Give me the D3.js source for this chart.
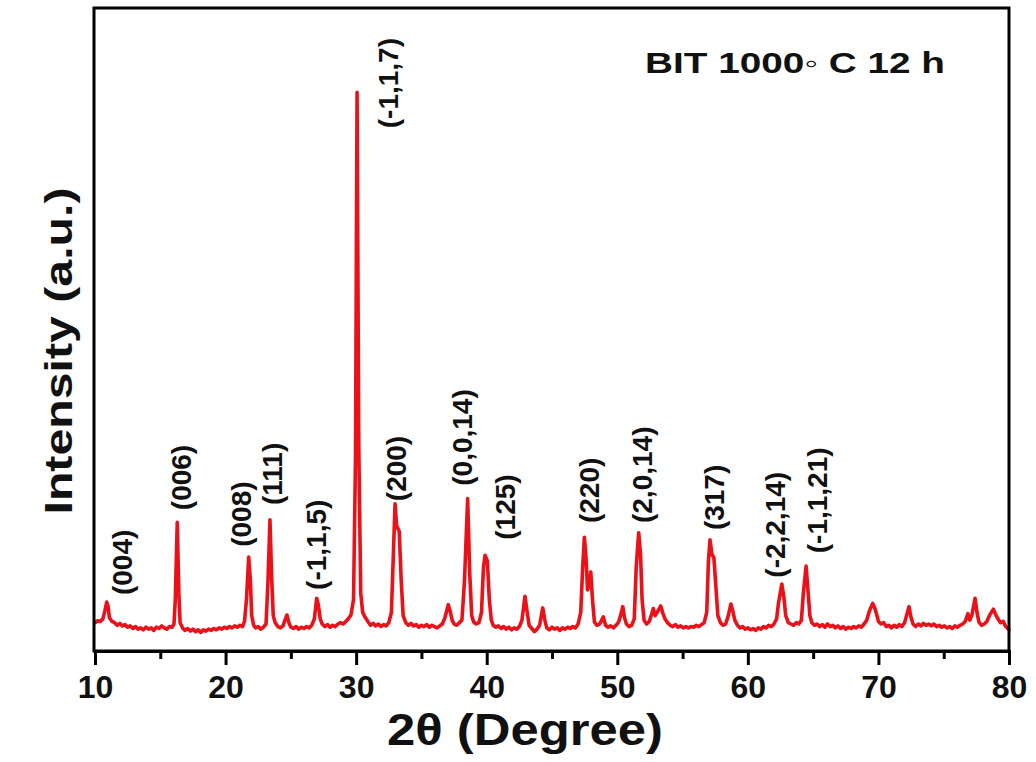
<!DOCTYPE html>
<html>
<head>
<meta charset="utf-8">
<script src="https://cdn.jsdelivr.net/npm/d3@7"></script>
<style>
  html, body { margin: 0; padding: 0; background: #fff; }
  svg { display: block; }
  text { font-family: "Liberation Sans", Arial, sans-serif; font-weight: bold; fill: #111; }
</style>
</head>
<body>
<svg id="chart" width="1036" height="762"></svg>
<script>
// ---- Data ----
// XRD trace: [2theta (degree), intensity (a.u.)]
const trace = [
  [10.0,44],[10.2,47],[10.4,46],[10.6,50],[10.75,62],[10.9,76],[11.0,70],[11.1,52],[11.3,46],[11.5,44],
  [11.7,40],[11.9,43],[12.1,39],[12.3,41],[12.5,37],[12.7,39],[12.9,35],[13.1,38],[13.3,34],[13.5,36],
  [13.7,33],[13.9,37],[14.1,34],[14.3,36],[14.5,32],[14.7,37],[14.9,35],[15.1,39],[15.3,36],[15.5,34],
  [15.7,38],[15.9,37],[16.05,42],[16.15,80],[16.3,200],[16.42,90],[16.52,44],[16.7,36],[16.9,32],[17.1,35],
  [17.3,31],[17.5,34],[17.7,30],[17.9,33],[18.1,29],[18.3,33],[18.5,31],[18.7,34],[18.9,32],[19.1,35],
  [19.3,33],[19.5,36],[19.7,34],[19.9,37],[20.1,35],[20.3,38],[20.5,36],[20.7,39],[20.9,37],[21.1,40],
  [21.3,38],[21.45,46],[21.6,80],[21.77,146],[21.9,110],[22.0,55],[22.15,40],[22.3,36],[22.5,38],[22.7,34],
  [22.9,37],[23.1,42],[23.25,110],[23.4,204],[23.52,120],[23.65,55],[23.8,44],[24.0,38],[24.2,36],[24.4,39],
  [24.55,48],[24.7,56],[24.85,44],[25.0,37],[25.2,35],[25.4,38],[25.6,34],[25.8,37],[26.0,35],[26.2,38],
  [26.4,36],[26.6,40],[26.8,50],[26.98,82],[27.1,72],[27.25,50],[27.4,42],[27.6,38],[27.8,41],[28.0,37],
  [28.2,40],[28.4,38],[28.6,42],[28.8,44],[29.0,42],[29.2,46],[29.4,50],[29.6,56],[29.8,80],[29.95,300],
  [30.07,869],[30.2,320],[30.35,90],[30.5,60],[30.7,52],[30.9,46],[31.1,40],[31.3,43],[31.5,39],[31.7,42],
  [31.9,38],[32.1,41],[32.3,39],[32.5,44],[32.7,60],[32.85,150],[32.98,229],[33.1,195],[33.3,186],[33.45,110],
  [33.6,55],[33.8,44],[34.0,40],[34.2,43],[34.4,39],[34.6,41],[34.8,37],[35.0,40],[35.2,38],[35.4,41],
  [35.6,37],[35.8,40],[36.0,38],[36.2,36],[36.4,39],[36.6,42],[36.8,52],[37.06,72],[37.2,62],[37.35,48],
  [37.5,42],[37.7,40],[37.9,44],[38.1,48],[38.3,110],[38.54,237],[38.7,120],[38.85,55],[39.0,45],[39.2,42],
  [39.4,44],[39.6,60],[39.75,130],[39.87,149],[40.05,140],[40.2,80],[40.35,48],[40.5,40],[40.7,37],[40.9,39],
  [41.1,35],[41.3,38],[41.5,34],[41.7,37],[41.9,33],[42.1,36],[42.3,34],[42.5,38],[42.7,48],[42.93,85],
  [43.1,60],[43.25,40],[43.45,35],[43.65,30],[43.85,34],[44.05,40],[44.29,67],[44.45,48],[44.6,36],[44.8,33],
  [45.0,37],[45.2,34],[45.4,36],[45.6,32],[45.8,36],[46.0,34],[46.2,37],[46.4,35],[46.6,38],[46.8,36],
  [47.0,42],[47.2,60],[47.35,130],[47.48,177],[47.62,140],[47.72,95],[47.82,100],[47.97,123],[48.1,80],[48.25,45],
  [48.45,40],[48.65,42],[48.93,53],[49.1,40],[49.3,37],[49.5,39],[49.7,36],[49.9,40],[50.1,45],[50.25,55],
  [50.42,69],[50.55,52],[50.7,42],[50.9,38],[51.1,40],[51.3,50],[51.45,130],[51.55,160],[51.64,184],[51.78,150],
  [51.9,80],[52.05,48],[52.25,42],[52.45,46],[52.6,55],[52.76,66],[52.9,55],[53.05,60],[53.33,70],[53.5,58],
  [53.65,50],[53.85,44],[54.05,40],[54.25,38],[54.45,41],[54.65,37],[54.85,39],[55.05,36],[55.25,38],[55.45,36],
  [55.65,38],[55.85,37],[56.05,40],[56.25,38],[56.45,41],[56.65,44],[56.85,60],[56.98,140],[57.1,173],[57.25,150],
  [57.4,145],[57.55,100],[57.7,55],[57.9,44],[58.1,40],[58.3,42],[58.5,55],[58.7,73],[58.85,62],[59.0,48],
  [59.2,40],[59.4,36],[59.6,38],[59.8,34],[60.0,36],[60.2,33],[60.4,35],[60.6,32],[60.8,36],[61.0,34],
  [61.2,38],[61.4,36],[61.6,40],[61.8,38],[62.0,42],[62.2,50],[62.35,75],[62.6,104],[62.75,85],[62.9,55],
  [63.1,44],[63.3,42],[63.5,40],[63.7,44],[63.9,42],[64.1,48],[64.25,90],[64.46,132],[64.6,95],[64.75,55],
  [64.9,44],[65.1,40],[65.3,42],[65.5,38],[65.7,41],[65.9,37],[66.1,42],[66.3,38],[66.5,40],[66.7,36],
  [66.9,39],[67.1,35],[67.3,38],[67.5,34],[67.7,37],[67.9,35],[68.1,38],[68.3,36],[68.5,39],[68.7,37],
  [68.9,42],[69.1,48],[69.3,62],[69.56,74],[69.7,68],[69.85,58],[70.0,46],[70.2,42],[70.4,44],[70.6,38],
  [70.8,40],[71.0,36],[71.2,40],[71.4,37],[71.6,41],[71.8,38],[72.0,44],[72.15,55],[72.34,69],[72.5,52],
  [72.65,42],[72.85,38],[73.05,42],[73.25,39],[73.45,43],[73.65,40],[73.85,42],[74.05,39],[74.25,42],[74.45,38],
  [74.65,40],[74.85,37],[75.05,39],[75.25,36],[75.45,38],[75.65,35],[75.85,39],[76.05,37],[76.25,40],[76.45,42],
  [76.65,46],[76.85,58],[77.0,48],[77.15,55],[77.4,82],[77.55,60],[77.7,45],[77.9,40],[78.1,42],[78.3,46],
  [78.5,55],[78.8,65],[78.95,58],[79.15,50],[79.35,44],[79.55,46],[79.75,38],[80.0,33]
];

// Peak (hkl) annotations: text, 2theta of label centre, intensity at label bottom
const peakLabels = ["(004)","(006)","(008)","(111)","(-1,1,5)","(-1,1,7)","(200)","(0,0,14)","(125)","(220)","(2,0,14)","(317)","(-2,2,14)","(-1,1,21)"];
const peakLabelTheta = [12.07,16.59,21.18,23.56,26.93,32.44,33.05,38.11,41.4,47.83,51.89,57.38,62.08,65.3];
const peakLabelIntensity = [87,219,162,227,95,813,233,257,173,199,199,188,114,152];

const xTicks = [10,20,30,40,50,60,70,80];
const xMinorTicks = [15,25,35,45,55,65,75];
const xDomain = [10,80];
const yDomain = [0,1000];

const sampleTitle = "BIT 1000\u25E6 C 12 h";
const xLabel = "2\u03B8 (Degree)";
const yLabel = "Intensity (a.u.)";

// ---- Drawing ----
const svg = d3.select("#chart");
const plotLeft = 95, plotRight = 1009, plotTop = 8, plotBottom = 651;

const x = d3.scaleLinear().domain(xDomain).range([plotLeft, plotRight]);
const y = d3.scaleLinear().domain(yDomain).range([plotBottom, plotTop]);

// XRD trace
const line = d3.line().x(d => x(d[0])).y(d => y(d[1]));
svg.append("path")
  .datum(trace)
  .attr("d", line)
  .attr("fill", "none")
  .attr("stroke", "#ec1018")
  .attr("stroke-width", 3.6)
  .attr("stroke-linejoin", "round")
  .attr("stroke-linecap", "round");

// frame
svg.append("rect")
  .attr("x", plotLeft - 1).attr("y", plotTop)
  .attr("width", plotRight - plotLeft + 1).attr("height", plotBottom - plotTop)
  .attr("fill", "none").attr("stroke", "#000").attr("stroke-width", 3);

// bottom axis (major)
const xAxis = d3.axisBottom(x).tickValues(xTicks).tickSize(14).tickPadding(10).tickFormat(d3.format("d"));
const gx = svg.append("g").attr("transform", `translate(0,${plotBottom})`).call(xAxis);
gx.select(".domain").attr("stroke", "#000").attr("stroke-width", 3);
gx.selectAll(".tick line").attr("stroke", "#000").attr("stroke-width", 3);
gx.selectAll(".tick text")
  .attr("font-family", "'Liberation Sans', Arial, sans-serif")
  .attr("font-weight", "bold")
  .attr("font-size", 32)
  .attr("fill", "#111");

// minor ticks
const xMinor = d3.axisBottom(x).tickValues(xMinorTicks).tickSize(8).tickFormat("");
const gm = svg.append("g").attr("transform", `translate(0,${plotBottom})`).call(xMinor);
gm.select(".domain").remove();
gm.selectAll(".tick line").attr("stroke", "#000").attr("stroke-width", 3);

// peak labels
svg.append("g").selectAll("text")
  .data(peakLabels)
  .join("text")
  .attr("transform", (d, i) => `translate(${x(peakLabelTheta[i]) + 10},${y(peakLabelIntensity[i])}) rotate(-90)`)
  .attr("font-size", 28)
  .attr("text-anchor", "start")
  .text(d => d);

// sample title
svg.append("text")
  .attr("x", 645).attr("y", 73)
  .attr("font-size", 29)
  .attr("textLength", 300)
  .attr("lengthAdjust", "spacingAndGlyphs")
  .text(sampleTitle);

// x label
svg.append("text")
  .attr("x", 387).attr("y", 745)
  .attr("font-size", 45)
  .attr("textLength", 276)
  .attr("lengthAdjust", "spacingAndGlyphs")
  .text(xLabel);

// y label
svg.append("text")
  .attr("transform", "translate(72,351) rotate(-90)")
  .attr("text-anchor", "middle")
  .attr("font-size", 38)
  .attr("textLength", 327)
  .attr("lengthAdjust", "spacingAndGlyphs")
  .text(yLabel);
</script>
</body>
</html>
